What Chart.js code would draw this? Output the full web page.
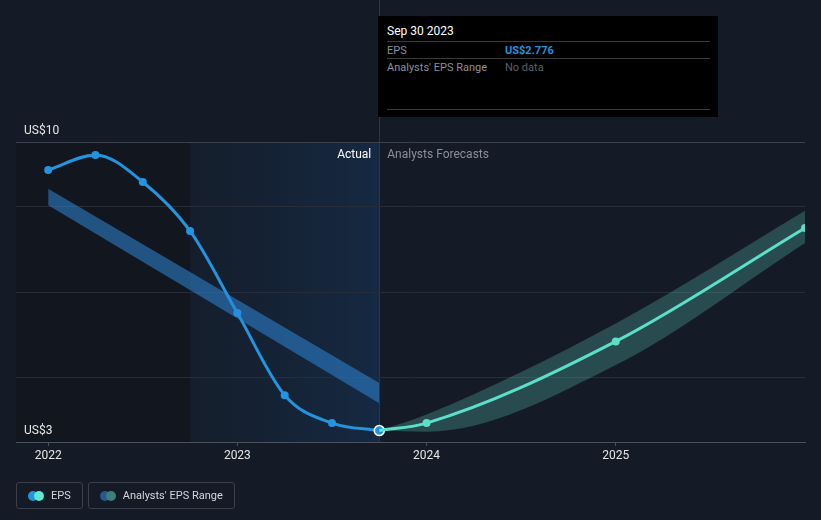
<!DOCTYPE html>
<html>
<head>
<meta charset="utf-8">
<script src="https://cdn.jsdelivr.net/npm/chart.js@4.4.1/dist/chart.umd.min.js"></script>
<style>
    body { margin: 0; background: #151b26; font-family: Roboto, "Open Sans", sans-serif; }
    #wrap { position: relative; width: 821px; height: 520px; overflow: hidden; }
    #chart { position: absolute; left: 0; top: 0; }
    .tip { position: absolute; left: 378px; top: 16px; width: 340px; height: 101px; background: #000; font-size: 11px; }
    .tip .head { position: absolute; left: 9px; top: 8px; color: #fff; font-size: 12px; }
    .tip .row { position: absolute; left: 9px; width: 323px; height: 17px; border-top: 1px solid #3a3a3a; }
    .tip .row span { position: absolute; top: 2px; }
    .tip .lbl { left: 0; color: #8a8f98; }
    .tip .val { left: 118px; }
    .legend { position: absolute; top: 482px; left: 16px; display: flex; gap: 5px; }
    .legend .item { box-sizing: border-box; height: 27px; border: 1px solid #3a3f4a; border-radius: 3px; display: flex; align-items: center; padding: 0 11px 0 11px; color: #d4d6da; font-size: 11px; }
    .legend .dots { position: relative; width: 16px; height: 10px; margin-right: 7px; }
    .legend .dots i { position: absolute; top: 0; width: 10px; height: 10px; border-radius: 50%; }
</style>
</head>
<body>
<div id="wrap">
    <canvas id="chart" width="821" height="520"></canvas>
    <div class="tip">
        <div class="head">Sep 30 2023</div>
        <div class="row" style="top:25px"><span class="lbl">EPS</span><span class="val" style="color:#2394df;font-weight:bold">US$2.776</span></div>
        <div class="row" style="top:42px"><span class="lbl">Analysts' EPS Range</span><span class="val" style="color:#5c6068">No data</span></div>
        <div class="row" style="top:93px;height:0"></div>
    </div>
    <div class="legend">
        <div class="item"><div class="dots"><i style="left:0;background:#2394df"></i><i style="left:6px;background:#5ee8cf"></i></div>EPS</div>
        <div class="item"><div class="dots"><i style="left:0;background:#245b8a"></i><i style="left:6px;background:#3d7f7a"></i></div>Analysts' EPS Range</div>
    </div>
</div>
<script>
// actual EPS, quarterly (fractional year)
const epsYears = [2022.0, 2022.25, 2022.5, 2022.75, 2023.0, 2023.25, 2023.5, 2023.75];
const epsValues = [8.84, 9.19, 8.56, 7.42, 5.51, 3.60, 2.95, 2.776];

// analysts' forecast EPS
const forecastYears = [2023.75, 2024, 2025, 2026];
const forecastValues = [2.776, 2.95, 4.85, 7.49];
const forecastLow = [2.776, 2.75, 4.30, 7.14];
const forecastHigh = [2.776, 3.15, 5.27, 7.89];

// past analysts' range band
const pastRangeYears = [2022.0, 2023.75];
const pastRangeLow = [8.02, 3.41];
const pastRangeHigh = [8.40, 3.88];

const xTickValues = [2022, 2023, 2024, 2025];
const xTickLabels = ['2022', '2023', '2024', '2025'];
const Y_MIN = 2.51;
const Y_MAX = 9.49;
const yTickValues = [Y_MIN, 4, 6, 8, Y_MAX];
const yTickLabels = ['US$3', '', '', '', 'US$10'];

const X_MIN = 2021.83;
const X_MAX = 2026;
const shadeStart = 2022.75;
const todayX = 2023.75;

function pts(xs, ys) {
    return xs.map((x, i) => ({ x: x, y: ys[i] }));
}

const backdrop = {
    id: 'backdrop',
    beforeDraw(chart) {
        const { ctx, chartArea, scales } = chart;
        const xs = Math.round(scales.x.getPixelForValue(shadeStart));
        const xt = scales.x.getPixelForValue(todayX);
        ctx.save();
        ctx.fillStyle = '#12161e';
        ctx.fillRect(chartArea.left, chartArea.top, xs - chartArea.left, chartArea.bottom - chartArea.top);
        const g = ctx.createLinearGradient(xs, 0, xt, 0);
        g.addColorStop(0, 'rgba(25,70,120,0.08)');
        g.addColorStop(1, 'rgba(25,90,160,0.24)');
        ctx.fillStyle = g;
        ctx.fillRect(xs, chartArea.top, xt - xs, chartArea.bottom - chartArea.top);
        ctx.strokeStyle = '#28384c';
        ctx.lineWidth = 1;
        ctx.beginPath();
        ctx.moveTo(Math.round(xt) + 0.5, 0);
        ctx.lineTo(Math.round(xt) + 0.5, chartArea.bottom);
        ctx.stroke();
        ctx.font = '12px Roboto, sans-serif';
        ctx.textBaseline = 'middle';
        ctx.textAlign = 'right';
        ctx.fillStyle = '#ffffff';
        ctx.fillText('Actual', xt - 8, chartArea.top + 13);
        ctx.textAlign = 'left';
        ctx.fillStyle = '#8a8f98';
        ctx.fillText('Analysts Forecasts', xt + 8, chartArea.top + 13);
        ctx.restore();
    }
};

const gridColors = ['#4b515c', '#272d38', '#272d38', '#272d38', '#3c424d'];

new Chart(document.getElementById('chart'), {
    type: 'line',
    data: {
        datasets: [
            {
                data: pts(pastRangeYears, pastRangeLow),
                borderWidth: 0, pointRadius: 0, fill: false, tension: 0
            },
            {
                data: pts(pastRangeYears, pastRangeHigh),
                borderWidth: 0, pointRadius: 0, tension: 0,
                fill: '-1', backgroundColor: 'rgba(45,135,215,0.55)'
            },
            {
                data: pts(forecastYears, forecastLow),
                borderWidth: 0, pointRadius: 0, fill: false, cubicInterpolationMode: 'monotone'
            },
            {
                data: pts(forecastYears, forecastHigh),
                borderWidth: 0, pointRadius: 0, cubicInterpolationMode: 'monotone',
                fill: '-1', backgroundColor: 'rgba(88,200,185,0.28)'
            },
            {
                data: pts(forecastYears, forecastValues),
                borderColor: '#5ee8cf', borderWidth: 3, cubicInterpolationMode: 'monotone',
                pointRadius: [0, 4, 4, 4], pointBackgroundColor: '#5ee8cf', pointBorderWidth: 0
            },
            {
                data: pts(epsYears, epsValues),
                borderColor: '#2394df', borderWidth: 3, cubicInterpolationMode: 'monotone',
                pointRadius: [4, 4, 4, 4, 4, 4, 4, 5],
                pointBackgroundColor: '#2394df',
                pointBorderColor: ['#2394df', '#2394df', '#2394df', '#2394df', '#2394df', '#2394df', '#2394df', '#ffffff'],
                pointBorderWidth: [0, 0, 0, 0, 0, 0, 0, 1.5]
            }
        ]
    },
    options: {
        responsive: false,
        animation: false,
        layout: { padding: { left: 16, right: 16, top: 142, bottom: 44 } },
        plugins: { legend: { display: false }, tooltip: { enabled: false } },
        scales: {
            x: {
                type: 'linear',
                min: X_MIN,
                max: X_MAX,
                afterBuildTicks: scale => { scale.ticks = xTickValues.map(v => ({ value: v })); },
                afterFit: scale => { scale.height = 34; },
                ticks: {
                    color: '#e6e6e6',
                    font: { family: 'Roboto', size: 12 },
                    padding: 3,
                    maxRotation: 0,
                    callback: (v, i) => xTickLabels[i]
                },
                grid: { drawOnChartArea: false, drawTicks: true, tickLength: 4, color: '#4b515c' },
                border: { display: true, color: '#4b515c', width: 1 }
            },
            y: {
                min: Y_MIN,
                max: Y_MAX,
                afterBuildTicks: scale => { scale.ticks = yTickValues.map(v => ({ value: v })); },
                afterFit: scale => { scale.width = 0; },
                ticks: {
                    mirror: true,
                    padding: 8,
                    labelOffset: -11,
                    color: '#e6e6e6',
                    font: { family: 'Roboto', size: 12 },
                    callback: (v, i) => yTickLabels[i]
                },
                grid: { drawTicks: false, color: ctx => gridColors[ctx.index] },
                border: { display: false }
            }
        }
    },
    plugins: [backdrop]
});
</script>
</body>
</html>
